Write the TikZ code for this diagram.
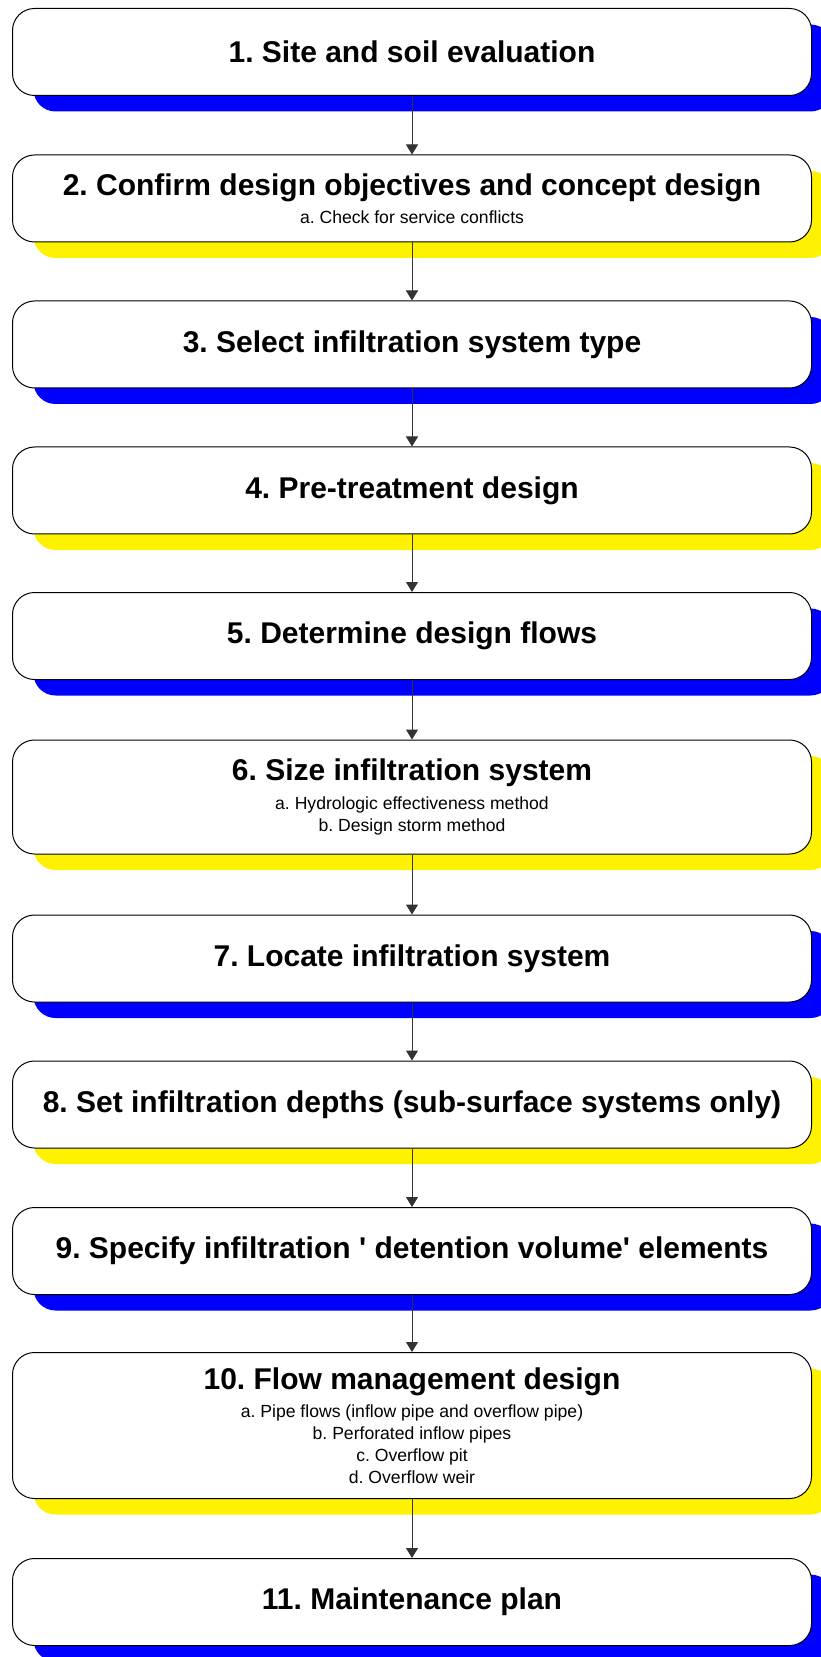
\documentclass[tikz,border=0pt]{standalone}
\usepackage{fontspec}
\setmainfont{Liberation Sans}
\usepackage{tikz}
\usetikzlibrary{positioning,shapes,arrows.meta,calc,shadows}

\newcommand{\subfont}{\fontsize{8.8}{11}\selectfont\mdseries}
\frenchspacing

\begin{document}
\begin{tikzpicture}[x=0.5pt, y=-0.5pt,
    stepbox/.style={rectangle, rounded corners=11pt, draw=black, line width=0.5pt, fill=white,
        minimum width=399.5pt, minimum height=43.5pt, align=center, inner sep=0pt,
        font=\fontsize{15}{11}\selectfont\bfseries},
    blueshadow/.style={drop shadow={shadow xshift=10.5pt, shadow yshift=-8pt, fill=blue, opacity=1}},
    yellowshadow/.style={drop shadow={shadow xshift=10.5pt, shadow yshift=-8pt, fill=yellow, opacity=1}},
    arrow/.style={-{Triangle[length=5pt, width=6pt]}, line width=0.5pt, black!80}
]
    \useasboundingbox (0,0) rectangle (820,1657);

    % Steps 1 - 5
    \node[stepbox, blueshadow] (site) at (412, 52) {1. Site and soil evaluation};
    \node[stepbox, yellowshadow] (objectives) at (412, 198.5) {2. Confirm design objectives and concept design\\[3.25pt]
        \subfont a. Check for service conflicts};
    \node[stepbox, blueshadow] (systype) at (412, 344.5) {3. Select infiltration system type};
    \node[stepbox, yellowshadow] (pretreat) at (412, 490.5) {4. Pre-treatment design};
    \node[stepbox, blueshadow] (flows) at (412, 636) {5. Determine design flows};

    % Step 6 - sizing
    \node[stepbox, yellowshadow, minimum height=57pt] (size) at (412, 797) {6. Size infiltration system\\[3.25pt]
        \subfont a. Hydrologic effectiveness method\\
        \subfont b. Design storm method};

    % Steps 7 - 9
    \node[stepbox, blueshadow] (locate) at (412, 958.5) {7. Locate infiltration system};
    \node[stepbox, yellowshadow] (depths) at (412, 1104.5) {8. Set infiltration depths (sub-surface systems only)};
    \node[stepbox, blueshadow] (detention) at (412, 1251) {9. Specify infiltration \textquotesingle{} detention volume\textquotesingle{} elements};

    % Step 10 - flow management
    \node[stepbox, yellowshadow, minimum height=73pt] (flowmgmt) at (412, 1425.5) {10. Flow management design\\[3.25pt]
        \subfont a. Pipe flows (inflow pipe and overflow pipe)\\
        \subfont b. Perforated inflow pipes\\
        \subfont c. Overflow pit\\
        \subfont d. Overflow weir};

    % Step 11
    \node[stepbox, blueshadow] (maint) at (412, 1602) {11. Maintenance plan};

    % Arrows
    \draw[arrow] (site) -- (objectives);
    \draw[arrow] (objectives) -- (systype);
    \draw[arrow] (systype) -- (pretreat);
    \draw[arrow] (pretreat) -- (flows);
    \draw[arrow] (flows) -- (size);
    \draw[arrow] (size) -- (locate);
    \draw[arrow] (locate) -- (depths);
    \draw[arrow] (depths) -- (detention);
    \draw[arrow] (detention) -- (flowmgmt);
    \draw[arrow] (flowmgmt) -- (maint);
\end{tikzpicture}
\end{document}
